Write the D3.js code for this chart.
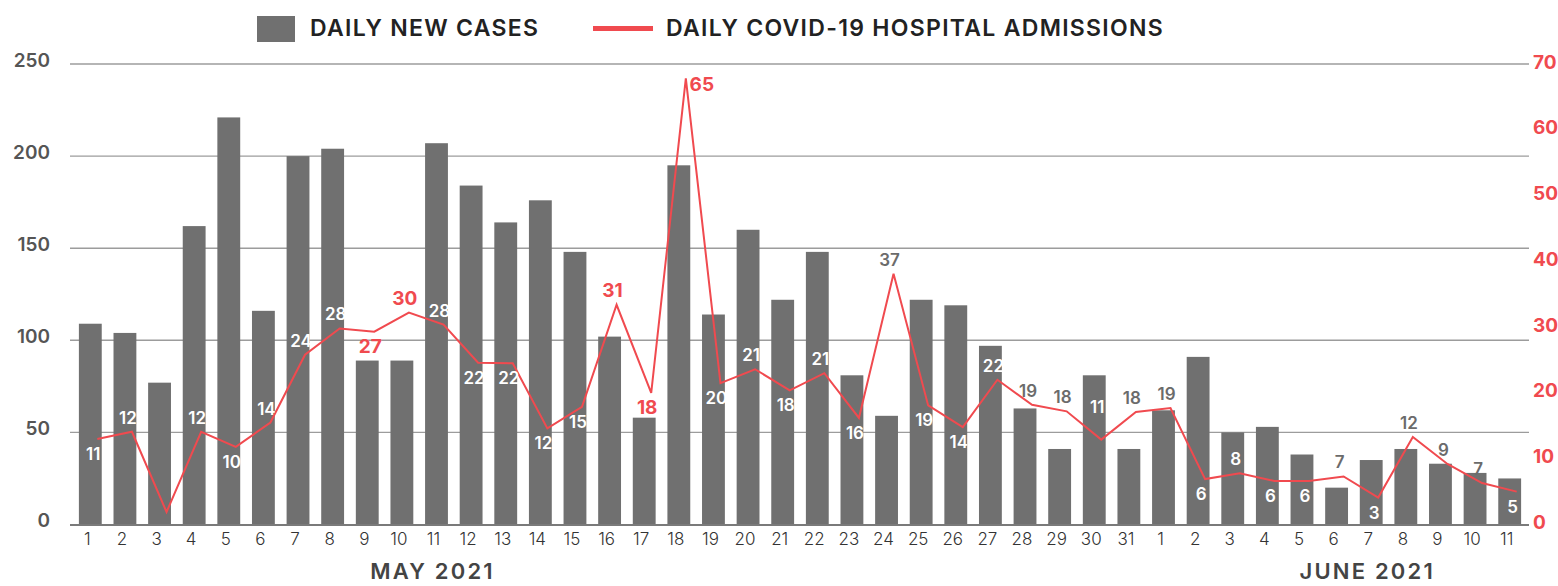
<!DOCTYPE html>
<html>
<head>
<meta charset="utf-8">
<script src="https://cdn.jsdelivr.net/npm/d3@7/dist/d3.min.js"></script>
<style>
  html, body { margin: 0; padding: 0; background: #fff; }
  svg { display: block; font-family: "Inter", "Open Sans", sans-serif; }
</style>
</head>
<body>
<svg id="chart" width="1558" height="586"></svg>
<script>
// ---------------- DATA ----------------
const dayLabels = ["1","2","3","4","5","6","7","8","9","10","11","12","13","14","15","16","17","18","19","20","21","22","23","24","25","26","27","28","29","30","31",
                   "1","2","3","4","5","6","7","8","9","10","11"];
const monthLabels = ["MAY 2021", "JUNE 2021"];
const newCases = [109,104,77,162,221,116,200,204,89,89,207,184,164,176,148,102,58,195,114,160,122,148,81,59,122,119,97,63,41,81,41,
                  62,91,50,53,38,20,35,41,33,28,25];
// hospital admissions as plotted by the line
const admissions = [13,14.1,1.9,14.1,11.8,15.5,25.8,29.8,29.3,32.2,30.4,24.6,24.5,14.6,17.9,33.4,20,67.8,21.5,23.6,20.4,23,16.2,38.1,18.1,14.8,22,18.2,17.2,12.9,17.1,
                    17.7,6.9,7.8,6.6,6.6,7.3,4.1,13.3,9.2,6.3,5.0];
// hospital admissions as printed on the chart
const admissionLabels = [11,12,null,12,10,14,24,28,27,30,28,22,22,12,15,31,18,65,20,21,18,21,16,37,19,14,22,19,18,11,18,
                         19,6,8,6,6,7,3,12,9,7,5];
const leftTicks = [0,50,100,150,200,250];
const rightTicks = [0,10,20,30,40,50,60,70];
const seriesNames = ["DAILY NEW CASES", "DAILY COVID-19 HOSPITAL ADMISSIONS"];

// ------------- ANNOTATION STYLE (placement/colour of value labels) -------------
const labelPlace = ["b","a","","a","b","a","a","a","b","a","a","b","b","b","b","a","b","r","b","a","b","a","b","a","b","b","a","a","a","A","a",
                    "a","b","a","b","b","a","b","a","a","a","b"];
const labelTone  = ["w","w","","w","w","w","w","w","r","r","w","w","w","w","w","r","r","r","w","w","w","w","w","g","w","w","w","g","g","w","g",
                    "g","w","w","w","w","g","w","g","g","g","w"];
// month caption sits under this day index of each month
const monthAnchor = [10, 37];

// ---------------- CHART ----------------
const BAR = "#707070", RED = "#F04A4F", GRID = "#9c9c9c";
const svg = d3.select("#chart");
const idx = d3.range(newCases.length);

const x = d3.scaleBand().domain(idx).range([73, 1527]).paddingInner(0.34).paddingOuter(0.17);
const yL = d3.scaleLinear().domain([0, 250]).range([524.5, 64]);
const yR = d3.scaleLinear().domain([0, 70]).range([524.5, 64]);
const plotLeft = 70, plotRight = 1529;
const cx = i => x(i) + x.bandwidth() / 2;

// gridlines
svg.append("g").selectAll("line").data(leftTicks.filter(d => d > 0)).join("line")
  .attr("x1", plotLeft).attr("x2", plotRight)
  .attr("y1", d => yL(d)).attr("y2", d => yL(d))
  .attr("stroke", GRID).attr("stroke-width", 1.4);

// left axis labels
svg.append("g").selectAll("text").data(leftTicks).join("text")
  .attr("x", 50).attr("y", d => yL(d) - 4)
  .attr("text-anchor", "end").attr("dominant-baseline", "central")
  .attr("font-size", 19).attr("font-weight", 600).attr("fill", "#555")
  .text(d => d);

// right axis labels
svg.append("g").selectAll("text").data(rightTicks).join("text")
  .attr("x", 1533).attr("y", d => yR(d) - 2)
  .attr("text-anchor", "start").attr("dominant-baseline", "central")
  .attr("font-size", 19).attr("font-weight", 700).attr("fill", RED)
  .text(d => d);

// bars
svg.append("g").selectAll("rect").data(idx).join("rect")
  .attr("x", i => x(i)).attr("width", x.bandwidth())
  .attr("y", i => yL(newCases[i])).attr("height", i => yL(0) - yL(newCases[i]))
  .attr("fill", BAR);

// baseline
svg.append("line")
  .attr("x1", plotLeft).attr("x2", plotRight)
  .attr("y1", yL(0) + 0.5).attr("y2", yL(0) + 0.5)
  .attr("stroke", "#7a7a7a").attr("stroke-width", 2);

// x tick labels
svg.append("g").selectAll("text").data(idx).join("text")
  .attr("x", i => cx(i) - 3).attr("y", 545)
  .attr("text-anchor", "middle")
  .attr("font-size", 17).attr("font-weight", 300).attr("fill", "#333")
  .text(i => dayLabels[i]);

// month labels
svg.append("g").selectAll("text").data(monthLabels).join("text")
  .attr("x", (d, k) => cx(monthAnchor[k]) - 4)
  .attr("y", 579)
  .attr("text-anchor", "middle")
  .attr("font-size", 22).attr("font-weight", 600).attr("fill", "#444").attr("letter-spacing", 2.2)
  .text(d => d);

// line
const lineX = i => cx(i) + 7;
svg.append("path")
  .datum(idx)
  .attr("fill", "none").attr("stroke", RED).attr("stroke-width", 2).attr("stroke-linejoin", "miter")
  .attr("d", d3.line().x(lineX).y(i => yR(admissions[i])));

// value labels
const toneFill = { w: "#ffffff", g: "#6b6b6b", r: RED };
const labelled = idx.filter(i => admissionLabels[i] !== null);
svg.append("g").selectAll("text").data(labelled).join("text")
  .attr("x", i => labelPlace[i] === "r" ? lineX(i) + 16 : cx(i) + 3)
  .attr("y", i => {
    const p = yR(admissions[i]);
    const pl = labelPlace[i];
    if (pl === "a") return p - 14;
    if (pl === "A") return p - 33;
    if (pl === "r") return p + 6;
    return p + 15;
  })
  .attr("text-anchor", "middle").attr("dominant-baseline", "central")
  .attr("font-size", i => labelTone[i] === "r" ? 19 : 17)
  .attr("font-weight", i => labelTone[i] === "r" ? 700 : 600)
  .attr("fill", i => toneFill[labelTone[i]])
  .text(i => admissionLabels[i]);

// legend
const lg = svg.append("g");
lg.append("rect").attr("x", 257).attr("y", 16).attr("width", 38).attr("height", 26).attr("fill", BAR);
lg.append("text").attr("x", 310).attr("y", 36).attr("font-size", 23).attr("font-weight", 600).attr("fill", "#222")
  .attr("letter-spacing", 1.3).text(seriesNames[0]);
lg.append("line").attr("x1", 593).attr("x2", 653).attr("y1", 28.5).attr("y2", 28.5).attr("stroke", RED).attr("stroke-width", 5);
lg.append("text").attr("x", 666).attr("y", 36).attr("font-size", 23).attr("font-weight", 600).attr("fill", "#222")
  .attr("letter-spacing", 1.3).text(seriesNames[1]);
</script>
</body>
</html>
